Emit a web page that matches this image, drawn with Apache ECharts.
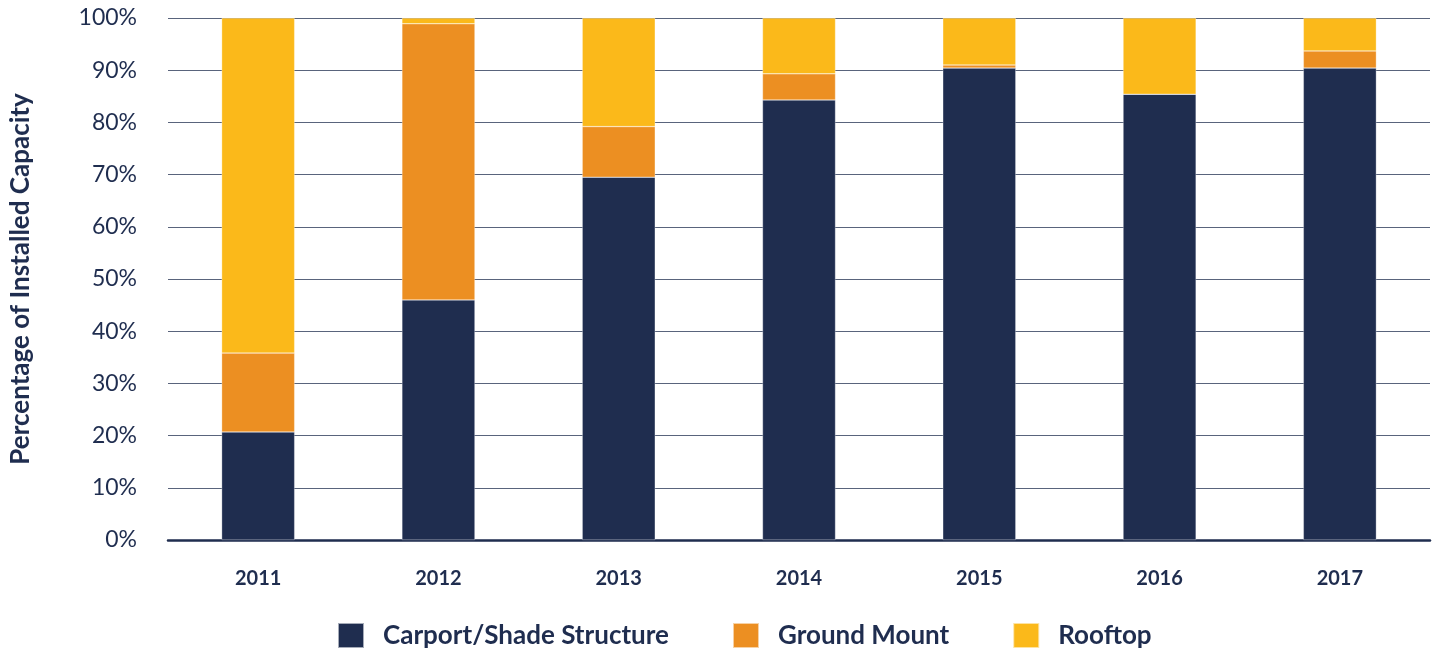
<!DOCTYPE html>
<html>
<head>
<meta charset="utf-8">
<script src="https://cdn.jsdelivr.net/npm/echarts@6/dist/echarts.min.js"></script>
<style>
html,body{margin:0;padding:0;background:#fff;}
#chart{width:1442px;height:648px;}
</style>
</head>
<body>
<div id="chart"></div>
<script>
const years = ['2011','2012','2013','2014','2015','2016','2017'];
const carport = [20.7, 46.0, 69.5, 84.3, 90.4, 85.4, 90.4];
const groundMount = [15.1, 52.9, 9.7, 5.0, 0.6, 0, 3.3];
const rooftop = [64.2, 1.1, 20.8, 10.7, 9.0, 14.6, 6.3];
const seriesNames = ['Carport/Shade Structure', 'Ground Mount', 'Rooftop'];
const colors = ['#1f2d4f', '#ec8f22', '#fbb91a'];

const navy = '#1f2d4f';
const chart = echarts.init(document.getElementById('chart'), null, {renderer: 'canvas'});
const mk = (name, data, color) => ({
  name: name, type: 'bar', stack: 'total', data: data, barWidth: 73,
  itemStyle: {color: color, borderColor: 'rgba(255,255,255,0.6)', borderWidth: 0.5},
  emphasis: {disabled: true}
});
chart.setOption({
  animation: false,
  textStyle: {fontFamily: 'Lato'},
  grid: {left: 168, right: 12, top: 18, bottom: 108},
  legend: {
    data: seriesNames, top: 622, left: 337, itemGap: 63, padding: 0,
    itemWidth: 26, itemHeight: 25, icon: 'rect',
    textStyle: {color: navy, fontSize: 26, lineHeight: 25, fontWeight: 'bold', fontFamily: 'Lato', padding: [0,0,0,14]}
  },
  xAxis: {
    type: 'category', data: years,
    axisLine: {lineStyle: {color: navy, width: 2.5}},
    axisTick: {show: false},
    axisLabel: {color: navy, fontSize: 20, fontWeight: 'bold', margin: 29}
  },
  yAxis: {
    type: 'value', min: 0, max: 100, interval: 10,
    name: 'Percentage of Installed Capacity', nameLocation: 'middle', nameGap: 134,
    nameTextStyle: {color: navy, fontSize: 26, fontWeight: 'bold'},
    axisLine: {show: false}, axisTick: {show: false},
    axisLabel: {color: navy, fontSize: 23, margin: 31, formatter: '{value}%'},
    splitLine: {lineStyle: {color: '#59647c', width: 1.2}}
  },
  series: [
    mk(seriesNames[0], carport, colors[0]),
    mk(seriesNames[1], groundMount, colors[1]),
    mk(seriesNames[2], rooftop, colors[2])
  ]
});
</script>
</body>
</html>
